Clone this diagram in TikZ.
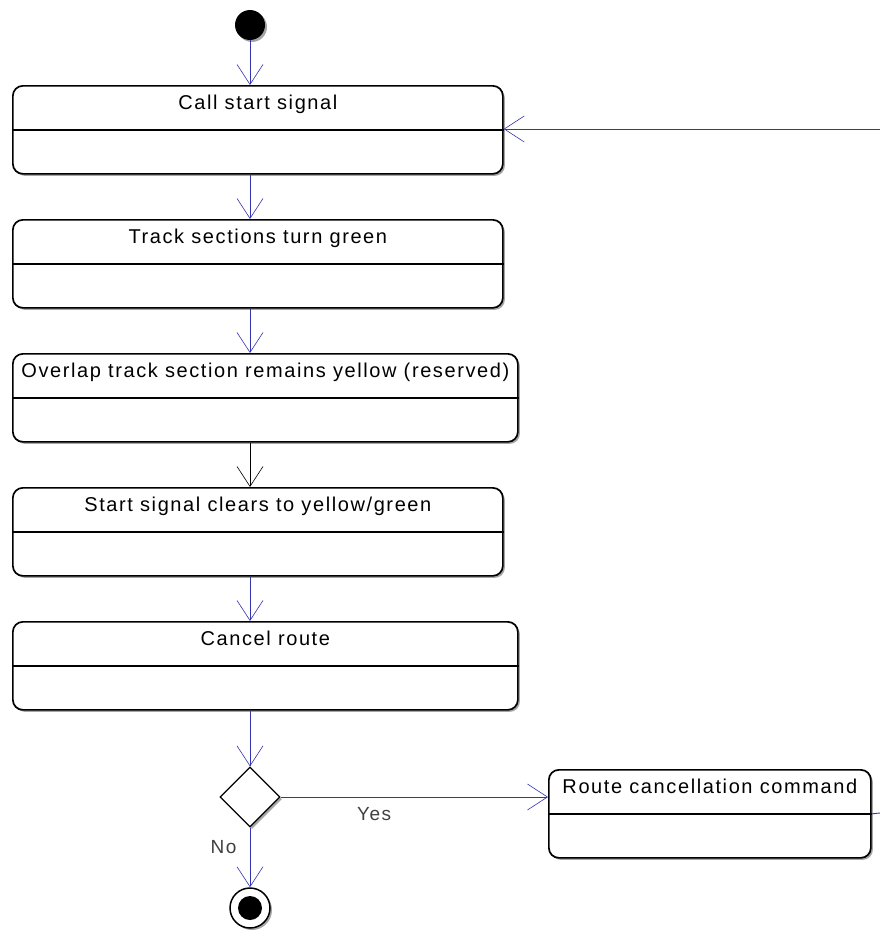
\documentclass[tikz,border=0pt]{standalone}
\usepackage{fontspec}
\setmainfont{Liberation Sans}[LetterSpace=8]
\usetikzlibrary{arrows.meta,shapes.geometric,shadows,calc}

\definecolor{flowblue}{RGB}{52,52,176}
\definecolor{shade}{RGB}{165,165,165}

\tikzset{
  every picture/.style={x=1pt,y=-1pt},
  boxshadow/.style={drop shadow={shadow xshift=2pt,shadow yshift=-2pt,fill=shade,opacity=1}},
  actbox/.style={draw=black,line width=1.7pt,fill=white,rounded corners=10pt,
    minimum height=88pt,inner sep=0pt,anchor=north west,boxshadow},
  boxtext/.style={anchor=base,inner sep=0pt,font=\fontsize{20}{23}\selectfont},
  divider/.style={draw=black,line width=1.3pt},
  vtip/.style={-{Straight Barb[length=20pt,width=26pt,line width=0.6pt]}},
  flow/.style={draw=flowblue,line width=0.9pt,vtip},
  plainflow/.style={draw=flowblue,line width=0.9pt},
  blackflow/.style={draw=black,line width=0.9pt,vtip},
  guard/.style={inner sep=0pt,text=black!75,font=\fontsize{19}{22}\selectfont},
  decision/.style={diamond,draw=black,line width=1.2pt,fill=white,inner sep=0pt,
    minimum width=60pt,minimum height=60pt,boxshadow},
  initial/.style={circle,fill=black,inner sep=0pt,minimum size=30pt,boxshadow},
  final/.style={circle,draw=black,line width=1.5pt,fill=white,inner sep=0pt,minimum size=40pt,
    boxshadow,path picture={\fill[black] (path picture bounding box.center) circle (12pt);}},
}

\begin{document}
\begin{tikzpicture}
  \fill[white] (0,0) rectangle (880,934);
  \useasboundingbox (0,0) rectangle (880,934);

  % start, decision and end nodes
  \node[initial] (start) at (250,25) {};
  \node[decision] (dec) at (250,797) {};
  \node[final] (stop) at (250,908) {};

  % activity boxes
  \node[actbox,minimum width=490pt] (b1) at (12,85) {};
  \node[actbox,minimum width=490pt] (b2) at (12,219) {};
  \node[actbox,minimum width=505pt] (b3) at (12,353) {};
  \node[actbox,minimum width=490pt] (b4) at (12,487) {};
  \node[actbox,minimum width=505pt] (b5) at (12,621) {};
  \node[actbox,minimum width=322pt] (cmd) at (548,769) {};

  \foreach \b in {b1,b2,b3,b4,b5,cmd}
    \draw[divider] (\b.west) -- (\b.east);

  \node[boxtext] (t1) at ($(b1.north)+(0,24)$) {Call start signal};
  \node[boxtext] (t2) at ($(b2.north)+(0,24)$) {Track sections turn green};
  \node[boxtext] (t3) at ($(b3.north)+(0,24)$) {Overlap track section remains yellow (reserved)};
  \node[boxtext] (t4) at ($(b4.north)+(0,24)$) {Start signal clears to yellow/green};
  \node[boxtext] (t5) at ($(b5.north)+(0,24)$) {Cancel route};
  \node[boxtext] (t6) at ($(cmd.north)+(0,24)$) {Route cancellation command};

  % control flow
  \draw[flow] (start) -- (start |- b1.north);
  \draw[flow] (b1.south -| start) -- (b2.north -| start);
  \draw[flow] (b2.south -| start) -- (b3.north -| start);
  \draw[blackflow] (b3.south -| start) -- (b4.north -| start);
  \draw[flow] (b4.south -| start) -- (b5.north -| start);
  \draw[flow] (b5.south -| start) -- (dec.north);
  \draw[flow] (dec.east) -- (dec.east -| cmd.west)
    node[guard,pos=0.35,below=10pt] (yes) {Yes};
  \draw[flow] (dec.south) -- (stop.north)
    node[guard,pos=0.32,left=13pt] (no) {No};

  % loop back from the command to the start signal
  \coordinate (outR) at (880,813);
  \coordinate (backR) at (880,129);
  \draw[plainflow] (cmd.east) -- (outR);
  \draw[flow] (backR) -- (backR -| b1.east);
\end{tikzpicture}
\end{document}
